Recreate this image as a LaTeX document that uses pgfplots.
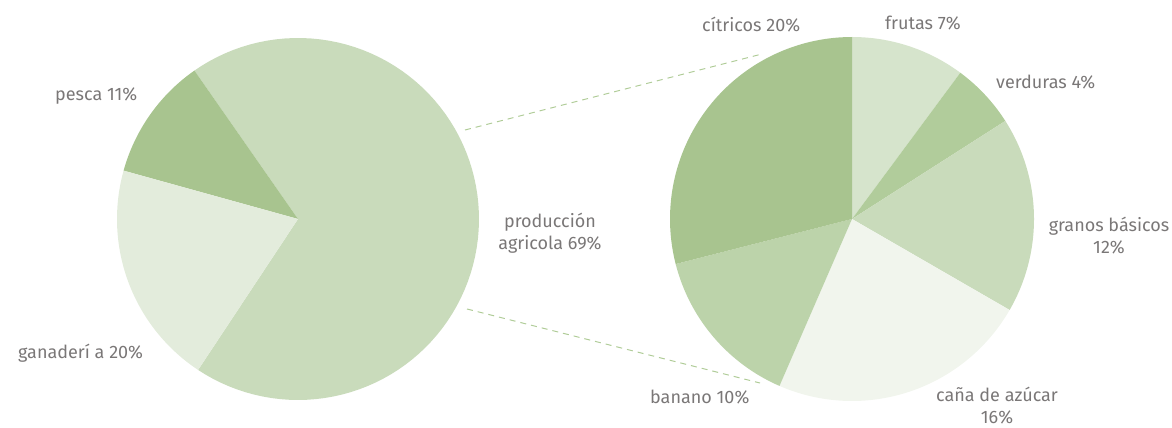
\documentclass[border=0pt]{standalone}
\usepackage{pgfplots}
\pgfplotsset{compat=1.18}
\usepackage{fontspec}
\setmainfont{Fira Sans}
\definecolor{cProd}{HTML}{C9DBBB}
\definecolor{cPesca}{HTML}{A8C48F}
\definecolor{cGan}{HTML}{E3ECDC}
\definecolor{cCit}{HTML}{A8C48F}
\definecolor{cFru}{HTML}{D6E4CC}
\definecolor{cVer}{HTML}{B1CC9B}
\definecolor{cGra}{HTML}{C9DBBB}
\definecolor{cCan}{HTML}{F1F5ED}
\definecolor{cBan}{HTML}{BCD3AA}
\definecolor{cDash}{HTML}{B0CC98}
\definecolor{cTxt}{HTML}{7A7777}
\newcommand{\slice}[6]{%
  \addplot[draw=none, fill=#6, domain=#4:#5, samples=90, variable=\t]
    ({#1+#3*cos(\t)},{#2+#3*sin(\t)}) -- (axis cs:#1,#2) -- cycle;
}
\begin{document}
\begin{tikzpicture}
% left pie values (percent)
\def\vProd{69}\def\vPesca{11}\def\vGan{20}
% right pie values (percent of total)
\def\vFru{7}\def\vVer{4}\def\vGra{12}\def\vCan{16}\def\vBan{10}\def\vCit{20}
\pgfmathsetmacro{\La}{236.5}
\pgfmathsetmacro{\Lb}{\La+\vProd*3.6}
\pgfmathsetmacro{\Lc}{\Lb+\vPesca*3.6}
\pgfmathsetmacro{\Ld}{\Lc+\vGan*3.6}
\pgfmathsetmacro{\Rt}{\vFru+\vVer+\vGra+\vCan+\vBan+\vCit}
\pgfmathsetmacro{\Ra}{90}
\pgfmathsetmacro{\Rb}{\Ra-\vFru*360/\Rt}
\pgfmathsetmacro{\Rc}{\Rb-\vVer*360/\Rt}
\pgfmathsetmacro{\Rd}{\Rc-\vGra*360/\Rt}
\pgfmathsetmacro{\Re}{\Rd-\vCan*360/\Rt}
\pgfmathsetmacro{\Rf}{\Re-\vBan*360/\Rt}
\pgfmathsetmacro{\Rg}{\Rf-\vCit*360/\Rt}
\begin{axis}[name=ax, scale only axis, width=1172pt, height=428pt,
  xmin=0, xmax=1172, ymin=0, ymax=428, hide axis, clip=false]
\slice{298}{209}{181}{\La}{\Lb}{cProd}
\slice{298}{209}{181}{\Lb}{\Lc}{cPesca}
\slice{298}{209}{181}{\Lc}{\Ld}{cGan}
\slice{852}{209}{182}{\Rb}{\Ra}{cFru}
\slice{852}{209}{182}{\Rc}{\Rb}{cVer}
\slice{852}{209}{182}{\Rd}{\Rc}{cGra}
\slice{852}{209}{182}{\Re}{\Rd}{cCan}
\slice{852}{209}{182}{\Rf}{\Re}{cBan}
\slice{852}{209}{182}{\Rg}{\Rf}{cCit}
\addplot[cDash, line width=1pt, dash pattern=on 6pt off 5pt] coordinates {(465,298) (762,374)};
\addplot[cDash, line width=1pt, dash pattern=on 6pt off 5pt] coordinates {(467,119) (760,45)};
\tikzset{lab/.style={text=cTxt, font=\fontsize{18}{22}\selectfont, inner sep=0pt, align=center}}
\node[lab, anchor=west] at (axis cs:55,332) {pesca 11\%};
\node[lab, anchor=west] at (axis cs:18,75) {ganaderí a 20\%};
\node[lab] at (axis cs:550,195) {producción\\agricola 69\%};
\node[lab, anchor=west] at (axis cs:702,403) {cítricos 20\%};
\node[lab, anchor=west] at (axis cs:885,405) {frutas 7\%};
\node[lab, anchor=west] at (axis cs:996,346) {verduras 4\%};
\node[lab] at (axis cs:1109,192) {granos básicos\\12\%};
\node[lab, anchor=west] at (axis cs:650,31) {banano 10\%};
\node[lab] at (axis cs:997,22) {caña de azúcar\\16\%};
\end{axis}
\pgfresetboundingbox
\path (ax.south west) rectangle (ax.north east);
\end{tikzpicture}
\end{document}
